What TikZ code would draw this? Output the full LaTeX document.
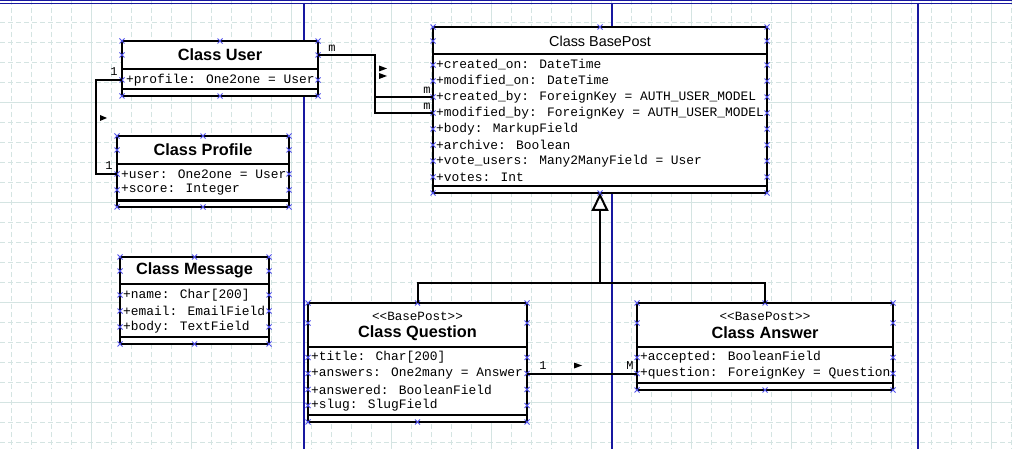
\documentclass[tikz,border=0pt]{standalone}
\usepackage{fontspec}
\setmainfont{Liberation Sans}
\newfontfamily\codefont{Liberation Mono}
\usetikzlibrary{arrows.meta, positioning}

\definecolor{gridline}{RGB}{212,228,226}
\definecolor{pageline}{RGB}{24,24,160}
\definecolor{gripblue}{RGB}{80,80,235}

\tikzset{gripx/.pic={\draw[gripblue, line width=0.9pt] (-2.5pt,-2.5pt) -- (2.5pt,2.5pt) (-2.5pt,2.5pt) -- (2.5pt,-2.5pt);}}

% selection grips round a class box (#2 = drop of the side grips)
\newcommand{\gripsof}[2]{%
  \path (#1.north west) pic{gripx} (#1.north) pic{gripx} (#1.north east) pic{gripx}
    (#1.south west) pic{gripx} (#1.south) pic{gripx} (#1.south east) pic{gripx}
    ([yshift=-#2pt]#1.north west) pic{gripx} ([yshift=-#2pt]#1.north east) pic{gripx};}

\begin{document}
\begin{tikzpicture}[x=1pt, y=-1pt]

  \tikzstyle{classbox} = [rectangle, draw=black, fill=white, line width=2.4pt, outer sep=0pt, inner sep=0pt, anchor=north west];
  \tikzstyle{classname} = [font=\bfseries\fontsize{16.3}{18}\selectfont, inner sep=0pt];
  \tikzstyle{stereo} = [font=\codefont\fontsize{12.6}{14}\selectfont, inner sep=0pt];
  \tikzstyle{attr} = [font=\codefont\fontsize{12.9}{15}\selectfont, anchor=west, inner sep=0pt];
  \tikzstyle{mult} = [font=\codefont\fontsize{12}{14}\selectfont, inner sep=0pt];
  \tikzstyle{divider} = [line width=2.4pt];
  \tikzstyle{link} = [line width=2pt];

  % sheet with grid and page breaks
  \useasboundingbox (0,0) rectangle (1012,449);
  \fill[white] (0,0) rectangle (1012,449);
  \foreach \x in {11,31,...,1011}
    \draw[gridline, line width=0.8pt, dash pattern=on 5pt off 3pt] (\x,0) -- (\x,449);
  \foreach \y in {22,42,...,442}
    \draw[gridline, line width=0.8pt, dash pattern=on 5pt off 3pt] (0,\y) -- (1012,\y);
  \foreach \x in {91,191,...,991}
    \draw[gridline, line width=0.9pt] (\x,0) -- (\x,449);
  \foreach \y in {102,202,302,402}
    \draw[gridline, line width=0.9pt] (0,\y) -- (1012,\y);
  \draw[pageline, line width=0.9pt] (0,0.8) -- (1012,0.8) (0,3.2) -- (1012,3.2);
  \foreach \x in {304,612,918}
    \draw[pageline, line width=1.2pt] (\x,3) -- (\x,449);

  % Class User
  \node[classbox, minimum width=196, minimum height=55] (user) at (122,41) {};
  \node[classname] (user-name) at (220,55) {Class User};
  \draw[divider] (122,69) -- (318,69) (122,89) -- (318,89);
  \node[attr] (user-1) at (126,80) {+profile: One2one = User};
  \gripsof{user}{14}
  \path (user-1 -| user.west) pic{gripx} (user-1 -| user.east) pic{gripx};

  % Class Profile
  \node[classbox, minimum width=172, minimum height=71] (profile) at (117,136) {};
  \node[classname] (profile-name) at (203,150) {Class Profile};
  \draw[divider] (117,164) -- (289,164) (117,200.5) -- (289,200.5);
  \foreach \t [count=\i] in {{+user: One2one = User}, {+score: Integer}} {
    \node[attr] (profile-\i) at (121,158+16*\i) {\t};
    \path (profile-\i -| profile.west) pic{gripx} (profile-\i -| profile.east) pic{gripx};
  }
  \gripsof{profile}{14}

  % Class BasePost
  \node[classbox, minimum width=334, minimum height=166] (basepost) at (433,27) {};
  \node[font=\fontsize{14.4}{17}\selectfont, inner sep=0pt] (basepost-name) at (600,41) {Class BasePost};
  \draw[divider] (433,54) -- (767,54) (433,186) -- (767,186);
  \foreach \t [count=\i] in {{+created\_on: DateTime}, {+modified\_on: DateTime},
      {+created\_by: ForeignKey = AUTH\_USER\_MODEL}, {+modified\_by: ForeignKey = AUTH\_USER\_MODEL},
      {+body: MarkupField}, {+archive: Boolean}, {+vote\_users: Many2ManyField = User}, {+votes: Int}} {
    \node[attr] (bp-\i) at (436,49+16*\i) {\t};
    \path (bp-\i -| basepost.west) pic{gripx} (bp-\i -| basepost.east) pic{gripx};
  }
  \gripsof{basepost}{14}

  % Class Message
  \node[classbox, minimum width=149, minimum height=87] (message) at (120,257) {};
  \node[classname] (message-name) at (194.5,270.5) {Class Message};
  \draw[divider] (120,284) -- (269,284) (120,337) -- (269,337);
  \foreach \t [count=\i] in {{+name: Char[200]}, {+email: EmailField}, {+body: TextField}} {
    \node[attr] (message-\i) at (123,279+16*\i) {\t};
    \path (message-\i -| message.west) pic{gripx} (message-\i -| message.east) pic{gripx};
  }
  \gripsof{message}{14}

  % Class Question
  \node[classbox, minimum width=219, minimum height=119] (question) at (308,303) {};
  \node[stereo] (question-stereo) at (417.5,316) {<{}<BasePost>{}>};
  \node[classname] (question-name) at (417.5,333) {Class Question};
  \draw[divider] (308,347) -- (527,347) (308,415) -- (527,415);
  \foreach \t [count=\i] in {{+title: Char[200]}, {+answers: One2many = Answer},
      {+answered: BooleanField}, {+slug: SlugField}} {
    \node[attr] (question-\i) at (311,341.5+16*\i) {\t};
    \path (question-\i -| question.west) pic{gripx} (question-\i -| question.east) pic{gripx};
  }
  \gripsof{question}{20}

  % Class Answer
  \node[classbox, minimum width=256, minimum height=87] (answer) at (637,303) {};
  \node[stereo] (answer-stereo) at (765,316) {<{}<BasePost>{}>};
  \node[classname] (answer-name) at (765,333) {Class Answer};
  \draw[divider] (637,347) -- (893,347) (637,383) -- (893,383);
  \foreach \t [count=\i] in {{+accepted: BooleanField}, {+question: ForeignKey = Question}} {
    \node[attr] (answer-\i) at (640,341.5+16*\i) {\t};
    \path (answer-\i -| answer.west) pic{gripx} (answer-\i -| answer.east) pic{gripx};
  }
  \gripsof{answer}{20}

  % associations
  \draw[link] (user-1 -| user.west) -- ++(-26,0) |- (profile-1 -| profile.west);
  \node[mult] (up-one) at (114,72) {1};
  \node[mult] (pu-one) at (109,166) {1};
  \fill (100,115) -- (107,118) -- (100,121) -- cycle;

  \draw[link] (user-name -| user.east) -- ++(57,0) |- (bp-3 -| basepost.west);
  \draw[link] (user-name -| user.east) -- ++(57,0) |- (bp-4 -| basepost.west);
  \node[mult] (ub-m) at (332,48) {m};
  \node[mult] (bu-m1) at (427,90) {m};
  \node[mult] (bu-m2) at (427,106) {m};
  \fill (379,65.5) -- (387,68.5) -- (379,71.5) -- cycle;
  \fill (379,73) -- (387,76) -- (379,79) -- cycle;

  \draw[link] (question-2 -| question.east) -- (question-2 -| answer.west);
  \node[mult] (qa-one) at (543,366) {1};
  \node[mult] (aq-many) at (630,366) {M};
  \fill (574,362.5) -- (582,365.5) -- (574,368.5) -- cycle;

  % inheritance
  \coordinate (fork) at (basepost.south |- 0,283);
  \draw[link] (question.north) |- (fork) -| (answer.north);
  \draw[link, -{Triangle[open, length=18pt, width=17pt]}] (fork) -- (basepost.south);

\end{tikzpicture}
\end{document}
